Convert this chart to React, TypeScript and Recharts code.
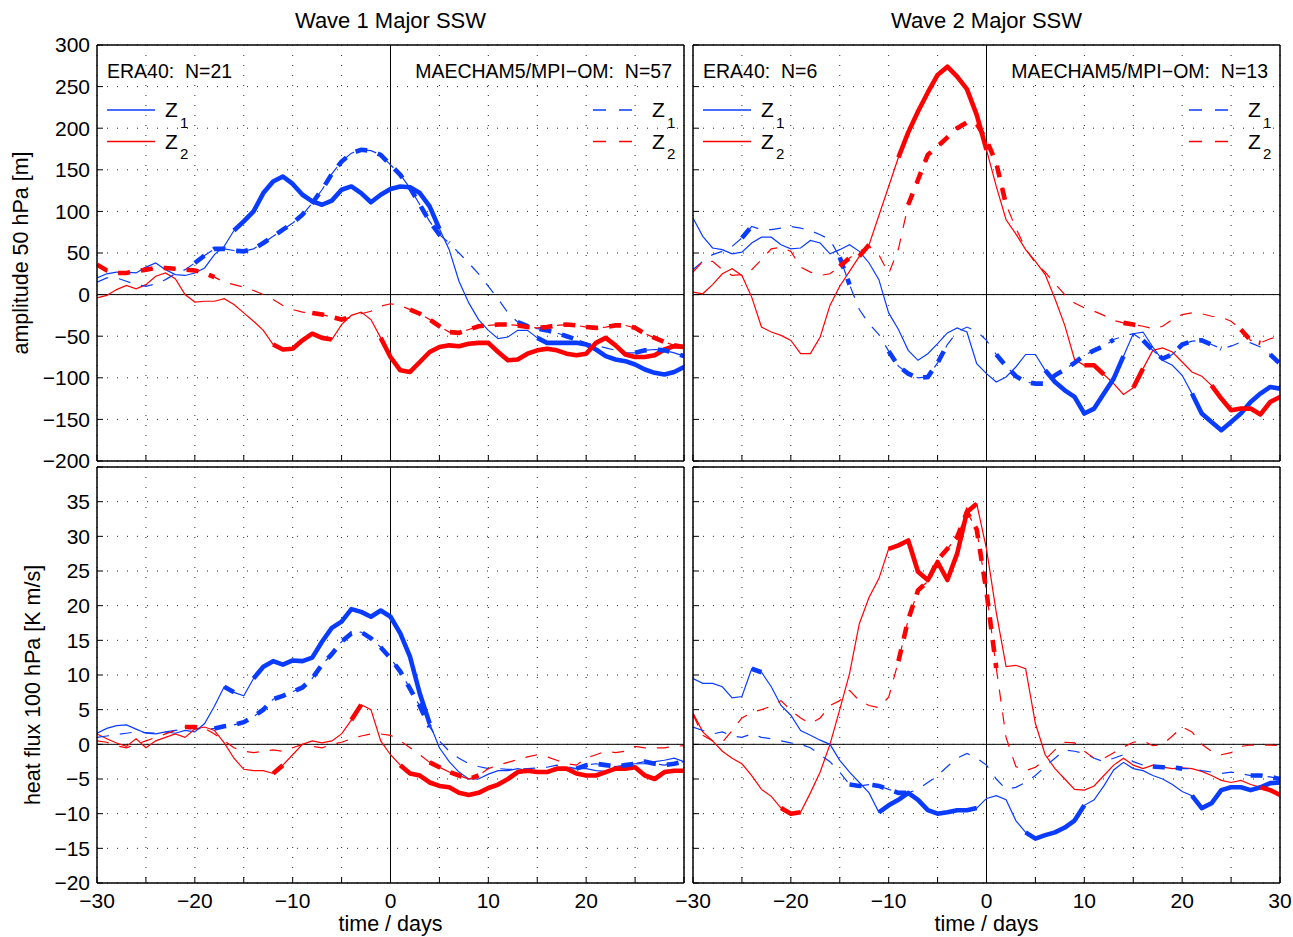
import React from 'react';
import { LineChart, Line, XAxis, YAxis, CartesianGrid, ReferenceLine } from 'recharts';

// ---------- categories & ticks ----------
const days = [-30, -29, -28, -27, -26, -25, -24, -23, -22, -21, -20, -19, -18, -17, -16, -15, -14, -13, -12, -11, -10, -9, -8, -7, -6, -5, -4, -3, -2, -1, 0, 1, 2, 3, 4, 5, 6, 7, 8, 9, 10, 11, 12, 13, 14, 15, 16, 17, 18, 19, 20, 21, 22, 23, 24, 25, 26, 27, 28, 29, 30];
const xTicks = [-30, -25, -20, -15, -10, -5, 0, 5, 10, 15, 20, 25, 30];
const ampTicks = [-200, -150, -100, -50, 0, 50, 100, 150, 200, 250, 300];
const fluxTicks = [-20, -15, -10, -5, 0, 5, 10, 15, 20, 25, 30, 35, 40];

// ---------- Wave 1, amplitude 50 hPa ----------
const w1AmpEraZ1 = [20, 25, 27, 27, 26, 33, 38, 30, 24, 23, 26, 32, 48, 58, 77, 88, 100, 122, 136, 142, 133, 120, 112, 108, 113, 126, 130, 122, 111, 120, 127, 130, 129, 122, 106, 79, 54, 16, -10, -30, -43, -53, -51, -43, -43, -52, -58, -58, -58, -58, -60, -66, -74, -78, -80, -84, -90, -94, -96, -93, -87];
const w1AmpEraZ2 = [-4, -1, 6, 11, 7, 12, 22, 26, 19, 0, -9, -8, -8, -5, -12, -22, -32, -43, -60, -66, -65, -55, -47, -52, -54, -36, -25, -21, -30, -52, -75, -91, -93, -81, -69, -63, -61, -62, -59, -58, -58, -69, -79, -78, -71, -67, -65, -67, -71, -73, -71, -58, -52, -61, -72, -75, -75, -73, -66, -62, -63];
const w1AmpModZ1 = [15, 20, 20, 16, 12, 10, 13, 18, 25, 30, 38, 47, 55, 55, 53, 52, 55, 62, 70, 78, 86, 96, 110, 126, 145, 160, 170, 174, 173, 168, 156, 144, 128, 108, 88, 72, 62, 50, 38, 25, 10, -5, -22, -33, -38, -41, -43, -46, -50, -54, -58, -61, -64, -67, -70, -70, -67, -66, -67, -70, -74];
const w1AmpModZ2 = [36, 29, 26, 26, 28, 30, 32, 32, 31, 30, 29, 26, 21, 15, 12, 9, 5, 0, -6, -13, -18, -21, -22, -24, -27, -30, -27, -23, -20, -14, -11, -13, -18, -23, -30, -38, -45, -46, -42, -38, -37, -36, -36, -37, -39, -40, -39, -37, -36, -37, -39, -40, -39, -37, -37, -40, -47, -52, -57, -61, -63];
const w1AmpEraZ1Sig = [[-16, 5], [15, 30]];
const w1AmpEraZ2Sig = [[-12, -6], [-1, 30]];
const w1AmpModZ1Sig = [[-20, 6], [13, 19], [25, 30]];
const w1AmpModZ2Sig = [[-30, -18], [-8, -4], [2, 30]];

// ---------- Wave 2, amplitude 50 hPa ----------
const w2AmpEraZ1 = [92, 70, 56, 54, 49, 51, 62, 69, 69, 60, 55, 56, 65, 62, 49, 54, 60, 52, 38, 18, -22, -42, -67, -79, -71, -59, -46, -40, -45, -83, -95, -105, -99, -87, -72, -72, -91, -105, -115, -123, -143, -137, -119, -101, -74, -47, -45, -63, -79, -85, -97, -119, -143, -153, -163, -153, -143, -129, -119, -111, -113];
const w2AmpEraZ2 = [3, 1, 12, 25, 31, 23, -3, -39, -45, -49, -55, -71, -71, -51, -13, 10, 28, 46, 60, 95, 130, 165, 195, 220, 243, 264, 274, 262, 247, 216, 174, 130, 90, 73, 54, 40, 24, -5, -37, -78, -85, -85, -96, -107, -120, -112, -89, -67, -64, -69, -81, -93, -98, -109, -125, -139, -137, -137, -144, -129, -123];
const w2AmpModZ1 = [30, 40, 48, 52, 58, 68, 82, 78, 78, 80, 82, 80, 77, 72, 66, 45, 12, -18, -35, -48, -68, -86, -95, -100, -99, -82, -60, -45, -39, -44, -55, -72, -86, -98, -105, -107, -107, -97, -90, -82, -73, -67, -62, -54, -50, -47, -55, -67, -77, -72, -60, -56, -55, -60, -65, -62, -57, -58, -63, -72, -83];
const w2AmpModZ2 = [27, 40, 40, 30, 23, 24, 30, 42, 55, 57, 52, 33, 27, 23, 25, 34, 44, 52, 58, 48, 25, 55, 108, 138, 168, 178, 189, 200, 207, 205, 186, 158, 108, 80, 55, 38, 27, 13, 0, -10, -16, -20, -25, -31, -34, -36, -38, -41, -38, -30, -24, -22, -23, -26, -27, -32, -42, -55, -58, -53, -50];
const w2AmpEraZ1Sig = [[6, 14], [21, 30]];
const w2AmpEraZ2Sig = [[-13, -12], [-9, 0], [10, 12], [15, 16], [23, 30]];
const w2AmpModZ1Sig = [[-25, -24], [-15, -14], [-10, -4], [1, 13], [16, 24], [29, 30]];
const w2AmpModZ2Sig = [[-15, -14], [-8, 2], [14, 16], [26, 28]];

// ---------- Wave 1, heat flux 100 hPa ----------
const w1FluxEraZ1 = [1.6, 2.3, 2.7, 2.8, 2.2, 1.6, 1.5, 1.8, 1.6, 2.0, 1.8, 3.0, 5.5, 8.3, 7.5, 7.0, 9.5, 11.2, 12.0, 11.5, 12.1, 12.0, 12.5, 14.8, 16.8, 17.7, 19.5, 19.1, 18.4, 19.3, 18.4, 16.0, 12.6, 7.3, 3.0, -0.5, -2.5, -4.0, -5.0, -5.0, -4.3, -3.8, -3.8, -3.5, -3.8, -4.0, -4.0, -3.8, -3.6, -3.5, -3.5, -3.8, -3.9, -3.5, -3.0, -2.8, -2.8, -2.5, -2.3, -2.0, -2.5];
const w1FluxEraZ2 = [1.5, 0.8, 0.2, -0.3, 0.8, -0.5, 0.5, 1.0, 1.5, 1.0, 2.2, 2.5, 2.0, 0.2, -2.0, -3.6, -3.8, -3.8, -4.2, -3.0, -1.5, 0, 0.5, 0.2, 0.5, 1.5, 3.5, 5.7, 5.0, 0.5, -1.5, -3.0, -4.2, -4.5, -5.5, -6.0, -6.2, -7.0, -7.3, -7.0, -6.3, -5.8, -5.0, -4.0, -3.8, -4.0, -4.0, -3.5, -3.5, -4.2, -4.5, -4.5, -4.0, -3.5, -3.5, -3.3, -4.5, -5.0, -4.0, -3.8, -3.8];
const w1FluxModZ1 = [1.0, 1.2, 1.4, 1.6, 1.8, 1.7, 1.6, 1.8, 2.0, 2.2, 2.3, 2.2, 2.3, 2.6, 2.8, 3.2, 4.0, 5.0, 6.5, 7.0, 7.6, 8.2, 9.5, 11.5, 13.0, 14.8, 16.0, 16.2, 15.3, 14.0, 12.4, 10.5, 8.0, 5.5, 2.5, 0.5, -1.0, -2.0, -2.8, -3.2, -3.5, -3.5, -3.6, -3.6, -3.5, -3.4, -3.3, -3.0, -3.2, -3.5, -3.0, -2.8, -3.0, -3.2, -3.0, -2.8, -2.5, -2.8, -3.0, -2.8, -2.5];
const w1FluxModZ2 = [0.5, 0.3, -0.2, -0.5, 0, 0.5, 1.0, 1.5, 2.0, 2.5, 2.5, 2.3, 1.5, 0.5, -0.5, -1.0, -1.2, -1.0, -0.8, -1.0, -0.5, 0, -0.3, -0.5, 0, 0.3, 0.8, 1.2, 1.5, 1.5, 1.3, 0.5, -0.5, -1.5, -2.6, -3.3, -4.0, -4.5, -5.0, -4.5, -3.5, -3.0, -2.6, -2.2, -1.8, -1.5, -1.8, -2.3, -2.8, -3.0, -2.0, -1.5, -1.0, -1.2, -1.0, -0.3, -0.5, -0.5, -0.5, -0.3, -0.2];
const w1FluxEraZ1Sig = [[-17, -16], [-14, 4]];
const w1FluxEraZ2Sig = [[-12, -11], [-4, -3], [1, 30]];
const w1FluxModZ1Sig = [[-18, 4], [19, 30]];
const w1FluxModZ2Sig = [[-21, -19], [4, 9]];

// ---------- Wave 2, heat flux 100 hPa ----------
const w2FluxEraZ1 = [9.5, 8.8, 8.8, 8.3, 6.7, 6.9, 10.9, 10.4, 8.3, 5.6, 4.2, 2.0, 1.3, 0.6, 0, -2.3, -4.0, -5.5, -7.0, -9.8, -8.8, -8.0, -7.0, -8.0, -9.5, -10.0, -9.8, -9.5, -9.5, -9.2, -7.8, -7.4, -8.0, -11.0, -12.7, -13.6, -13.1, -12.7, -12.0, -11.0, -8.8, -8.0, -6.0, -3.7, -2.6, -3.5, -3.8, -4.5, -5.0, -5.8, -6.8, -7.4, -9.2, -8.5, -6.6, -6.2, -6.2, -6.6, -6.2, -5.6, -5.5];
const w2FluxEraZ2 = [4.5, 1.8, 0.5, -1.0, -2.0, -2.8, -4.5, -6.5, -7.5, -9.2, -10.0, -9.8, -7.0, -4.0, 0, 5.0, 10.2, 17.4, 21.2, 23.9, 28.2, 28.7, 29.4, 24.9, 23.7, 26.3, 23.7, 27.5, 33.5, 34.7, 28.2, 19.0, 11.2, 11.4, 10.9, 3.0, -1.5, -3.5, -5.0, -6.5, -6.6, -6.0, -4.5, -3.0, -2.0, -3.0, -3.5, -3.0, -3.3, -3.5, -3.4, -3.5, -3.9, -4.5, -5.2, -5.5, -5.2, -5.8, -6.2, -6.6, -7.3];
const w2FluxModZ1 = [2.5, 2.0, 1.5, 1.8, 1.2, 1.0, 1.5, 1.0, 0.8, 0.5, 0.2, 0, -0.5, -1.5, -2.5, -4.0, -5.8, -6.0, -5.8, -6.0, -6.5, -7.0, -7.0, -6.5, -5.5, -4.5, -3.2, -2.0, -1.3, -2.0, -3.0, -5.0, -6.5, -6.2, -5.5, -4.5, -3.2, -2.0, -0.8, -1.0, -1.3, -2.0, -2.5, -2.0, -1.5, -2.5, -3.0, -3.2, -3.3, -3.3, -3.5, -3.5, -3.8, -4.0, -4.2, -4.0, -4.2, -4.5, -4.5, -4.7, -5.0];
const w2FluxModZ2 = [4.3, 1.3, 0.5, 0.3, 2.0, 3.8, 4.6, 5.0, 5.5, 6.3, 4.9, 3.8, 3.0, 3.8, 5.6, 6.3, 7.8, 6.3, 5.6, 5.3, 6.8, 12.0, 18.0, 22.2, 23.5, 26.6, 28.2, 29.9, 33.5, 31.0, 22.0, 11.0, 1.0, -3.2, -3.8, -3.3, -2.2, -0.8, 0.3, 0.2, -1.0, -2.0, -2.0, -1.2, -0.4, 0.3, 0.5, -0.2, 0, 1.2, 2.5, 1.8, 0, -1.0, -1.5, -1.2, -0.3, -0.1, -0.1, -0.1, -0.2];
const w2FluxEraZ1Sig = [[-24, -23], [-11, -1], [4, 10], [21, 30]];
const w2FluxEraZ2Sig = [[-21, -19], [-10, -1], [28, 30]];
const w2FluxModZ1Sig = [[-14, -8], [17, 20], [27, 30]];
const w2FluxModZ2Sig = [[-9, 1]];

// ---------- texts ----------
const colTitles = ['Wave 1 Major SSW', 'Wave 2 Major SSW'];
const eraCounts = ['ERA40:  N=21', 'ERA40:  N=6'];
const modCounts = ['MAECHAM5/MPI\u2212OM:  N=57', 'MAECHAM5/MPI\u2212OM:  N=13'];
const yTitles = ['amplitude 50 hPa [m]', 'heat flux 100 hPa [K m/s]'];
const xTitle = 'time / days';

const BLUE = '#0a3cff';
const RED = '#ff0000';
const FONT = '"Liberation Sans", Arial, Helvetica, sans-serif';

type Range = number[];
const inRanges = (d: number, r: Range[]) => r.some(([a, b]) => d >= a && d <= b);
const fmt = (v: number) => (v < 0 ? '\u2212' + Math.abs(v) : String(v));
const keepSpaces = (s: string) => s.replace(/ {2}/g, ' \u00a0');

const panels = [
  { key: 'a', x: 97, y: 45, w: 587, h: 416, dom: [-200, 300], ticks: ampTicks, yLab: true, xLab: false,
    e1: w1AmpEraZ1, e2: w1AmpEraZ2, m1: w1AmpModZ1, m2: w1AmpModZ2, s1: w1AmpEraZ1Sig, s2: w1AmpEraZ2Sig, t1: w1AmpModZ1Sig, t2: w1AmpModZ2Sig },
  { key: 'b', x: 693, y: 45, w: 587, h: 416, dom: [-200, 300], ticks: ampTicks, yLab: false, xLab: false,
    e1: w2AmpEraZ1, e2: w2AmpEraZ2, m1: w2AmpModZ1, m2: w2AmpModZ2, s1: w2AmpEraZ1Sig, s2: w2AmpEraZ2Sig, t1: w2AmpModZ1Sig, t2: w2AmpModZ2Sig },
  { key: 'c', x: 97, y: 467, w: 587, h: 416, dom: [-20, 40], ticks: fluxTicks, yLab: true, xLab: true, skip30: true, hideTop: true,
    e1: w1FluxEraZ1, e2: w1FluxEraZ2, m1: w1FluxModZ1, m2: w1FluxModZ2, s1: w1FluxEraZ1Sig, s2: w1FluxEraZ2Sig, t1: w1FluxModZ1Sig, t2: w1FluxModZ2Sig },
  { key: 'd', x: 693, y: 467, w: 587, h: 416, dom: [-20, 40], ticks: fluxTicks, yLab: false, xLab: true, hideTop: true,
    e1: w2FluxEraZ1, e2: w2FluxEraZ2, m1: w2FluxModZ1, m2: w2FluxModZ2, s1: w2FluxEraZ1Sig, s2: w2FluxEraZ2Sig, t1: w2FluxModZ1Sig, t2: w2FluxModZ2Sig },
];

const LW = 70;
const BH = 42;
const RM = 24;
const TM = 14;
const THIN = 1.2;
const THICK = 4.6;
const DASH = '12 11';

function Panel({ p }: { p: any }) {
  const data = days.map((d, i) => ({
    day: d,
    e1: p.e1[i], e2: p.e2[i], m1: p.m1[i], m2: p.m2[i],
    e1s: inRanges(d, p.s1) ? p.e1[i] : null,
    e2s: inRanges(d, p.s2) ? p.e2[i] : null,
    m1s: inRanges(d, p.t1) ? p.m1[i] : null,
    m2s: inRanges(d, p.t2) ? p.m2[i] : null,
  }));
  const W = p.w + LW + 1 + RM;
  const H = p.h + BH + 1 + TM;
  const topVal = p.dom[1];
  const axisLine = { stroke: '#000', strokeWidth: 1.5 };
  const tickStyle = { fontSize: 21, fill: '#000', fontFamily: FONT };
  const common = { isAnimationActive: false, dot: false, activeDot: false, type: 'linear' as const, connectNulls: false };
  return (
    <div style={{ position: 'absolute', left: p.x - LW, top: p.y - 1 - TM, width: W, height: H }}>
      <LineChart width={W} height={H} data={data} margin={{ top: TM, right: RM, bottom: 0, left: 0 }}>
        <CartesianGrid stroke="#000" strokeOpacity={0.85} strokeDasharray="1 9" strokeWidth={1} />
        <XAxis dataKey="day" type="number" domain={[-30, 30]} ticks={xTicks} interval={0} allowDataOverflow
          height={BH} tickSize={-6} tickMargin={16} axisLine={axisLine} tickLine={{ stroke: '#000' }} tick={tickStyle}
          tickFormatter={(v: number) => (!p.xLab || v % 10 !== 0 || (p.skip30 && v === 30) ? '' : fmt(v))} />
        <XAxis xAxisId="top" orientation="top" dataKey="day" type="number" domain={[-30, 30]} ticks={xTicks} interval={0}
          allowDataOverflow height={1} tickSize={-6} axisLine={axisLine} tickLine={{ stroke: '#000' }} tick={false} />
        <YAxis type="number" domain={p.dom} ticks={p.ticks} interval={0} allowDataOverflow width={LW}
          tickSize={-6} tickMargin={13} axisLine={axisLine} tickLine={{ stroke: '#000' }} tick={tickStyle}
          tickFormatter={(v: number) => (!p.yLab || (p.hideTop && v === topVal) ? '' : fmt(v))} />
        <YAxis yAxisId="right" orientation="right" type="number" domain={p.dom} ticks={p.ticks} interval={0}
          allowDataOverflow width={1} tickSize={-6} axisLine={axisLine} tickLine={{ stroke: '#000' }} tick={false} />
        <ReferenceLine y={0} stroke="#000" strokeWidth={1} />
        <ReferenceLine x={0} stroke="#000" strokeWidth={1} />
        <Line {...common} dataKey="e1" stroke={BLUE} strokeWidth={THIN} />
        <Line {...common} dataKey="e2" stroke={RED} strokeWidth={THIN} />
        <Line {...common} dataKey="m1" stroke={BLUE} strokeWidth={THIN} strokeDasharray={DASH} />
        <Line {...common} dataKey="m2" stroke={RED} strokeWidth={THIN} strokeDasharray={DASH} />
        <Line {...common} dataKey="e1s" stroke={BLUE} strokeWidth={THICK} strokeLinejoin="round" />
        <Line {...common} dataKey="e2s" stroke={RED} strokeWidth={THICK} strokeLinejoin="round" />
        <Line {...common} dataKey="m1s" stroke={BLUE} strokeWidth={THICK} strokeDasharray={DASH} />
        <Line {...common} dataKey="m2s" stroke={RED} strokeWidth={THICK} strokeDasharray={DASH} />
      </LineChart>
    </div>
  );
}

function LegendBox({ x0, dashed, align }: { x0: number; dashed: boolean; align: 'left' | 'right' }) {
  const rows = [
    { c: BLUE, sub: '1', y: 110 },
    { c: RED, sub: '2', y: 141.5 },
  ];
  const len = align === 'left' ? 48 : 39;
  const tx = align === 'left' ? x0 + 58 : x0 + 59;
  return (
    <g>
      {rows.map((r) => (
        <g key={r.sub}>
          <line x1={x0} x2={x0 + len} y1={r.y} y2={r.y} stroke={r.c} strokeWidth={1.3}
            strokeDasharray={dashed ? '13 13' : undefined} />
          <text x={tx} y={r.y + 7} fontSize={21} fontFamily={FONT} fill="#000">Z</text>
          <text x={tx + 15} y={r.y + 17.5} fontSize={15} fontFamily={FONT} fill="#000">{r.sub}</text>
        </g>
      ))}
    </g>
  );
}

export default function App() {
  return (
    <div style={{ position: 'relative', width: 1293, height: 937, background: '#fff', overflow: 'hidden' }}>
      <style>{'body{margin:0;background:#fff;}'}</style>
      {panels.map((p) => (
        <Panel key={p.key} p={p} />
      ))}
      <svg width={1293} height={937} style={{ position: 'absolute', left: 0, top: 0, pointerEvents: 'none' }}>
        <g fontFamily={FONT} fill="#000">
          <text x={390.5} y={28} fontSize={22} textAnchor="middle">{colTitles[0]}</text>
          <text x={986.5} y={28} fontSize={22} textAnchor="middle">{colTitles[1]}</text>
          <text transform="translate(28,253) rotate(-90)" fontSize={21.5} textAnchor="middle">{yTitles[0]}</text>
          <text transform="translate(40,685) rotate(-90)" fontSize={21.5} textAnchor="middle">{yTitles[1]}</text>
          <text x={390.5} y={931} fontSize={21.5} textAnchor="middle">{xTitle}</text>
          <text x={986.5} y={931} fontSize={21.5} textAnchor="middle">{xTitle}</text>
          <text x={107} y={78} fontSize={19.5}>{keepSpaces(eraCounts[0])}</text>
          <text x={672} y={78} fontSize={19.5} textAnchor="end">{keepSpaces(modCounts[0])}</text>
          <text x={703} y={78} fontSize={19.5}>{keepSpaces(eraCounts[1])}</text>
          <text x={1268} y={78} fontSize={19.5} textAnchor="end">{keepSpaces(modCounts[1])}</text>
        </g>
        <LegendBox x0={107} dashed={false} align="left" />
        <LegendBox x0={593} dashed={true} align="right" />
        <LegendBox x0={703} dashed={false} align="left" />
        <LegendBox x0={1189} dashed={true} align="right" />
      </svg>
    </div>
  );
}
